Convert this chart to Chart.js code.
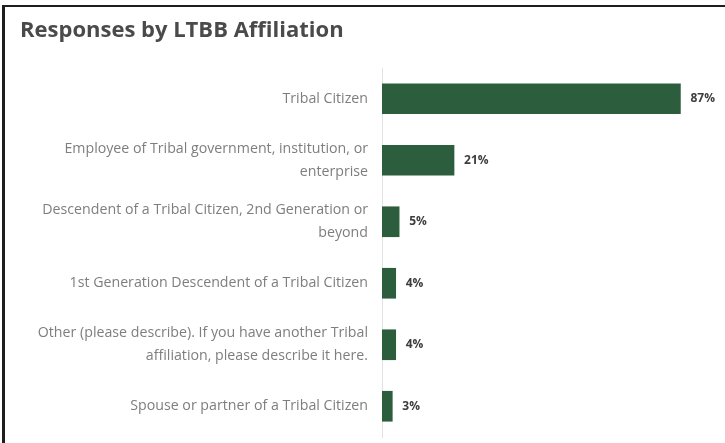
<!DOCTYPE html>
<html>
<head>
<meta charset="utf-8">
<script src="https://cdn.jsdelivr.net/npm/chart.js@4"></script>
<style>
  html, body { margin: 0; padding: 0; background: #fff; }
  #wrap { position: relative; width: 725px; height: 443px; overflow: hidden; }
  #frame {
    position: absolute; left: 2px; top: 5px; right: 0; bottom: 0;
    border-left: 3px solid #1e1e1e; border-top: 2px solid #1e1e1e;
    pointer-events: none;
  }
  #title {
    position: absolute; left: 20px; top: 13px;
    font: bold 22px "Open Sans", sans-serif; color: #4a4a4a;
  }
</style>
</head>
<body>
<div id="wrap">
  <canvas id="grafico" width="725" height="443"></canvas>
  <div id="title">Responses by LTBB Affiliation</div>
  <div id="frame"></div>
</div>
<script>
// === Dados ===
const categorias = [
  ["Tribal Citizen"],
  ["Employee of Tribal government, institution, or", "enterprise"],
  ["Descendent of a Tribal Citizen, 2nd Generation or", "beyond"],
  ["1st Generation Descendent of a Tribal Citizen"],
  ["Other (please describe). If you have another Tribal", "affiliation, please describe it here."],
  ["Spouse or partner of a Tribal Citizen"]
];
const percentuais = [87, 21, 5, 4, 4, 3];

// rótulos de valor na ponta das barras
const rotulosValor = {
  id: "rotulosValor",
  afterDatasetsDraw(chart) {
    const ctx = chart.ctx;
    const meta = chart.getDatasetMeta(0);
    ctx.save();
    ctx.font = "bold 12px 'Open Sans', sans-serif";
    ctx.fillStyle = "#3d3d3d";
    ctx.textBaseline = "middle";
    meta.data.forEach((bar, i) => {
      ctx.fillText(percentuais[i] + "%", bar.x + 10, bar.y);
    });
    ctx.restore();
  }
};

new Chart(document.getElementById("grafico"), {
  type: "bar",
  data: {
    labels: categorias,
    datasets: [{
      data: percentuais,
      backgroundColor: "#2c5e3d",
      barThickness: 30
    }]
  },
  options: {
    indexAxis: "y",
    responsive: false,
    animation: false,
    layout: { padding: { top: 68, bottom: 6, left: 0, right: 0 } },
    scales: {
      x: { display: false, min: 0, max: 100 },
      y: {
        grid: { display: false, drawTicks: false },
        border: { display: true, color: "#e2e2e2", width: 1 },
        ticks: {
          color: "#7e7e7e",
          padding: 14,
          font: { family: "'Open Sans', sans-serif", size: 14.2, lineHeight: "23px" }
        },
        afterFit(scale) {
          // largura fixa do eixo e sem folga extra em cima/baixo
          scale.width = 382;
          scale.paddingTop = 0;
          scale.paddingBottom = 0;
        }
      }
    },
    plugins: {
      legend: { display: false },
      tooltip: { enabled: false }
    }
  },
  plugins: [rotulosValor]
});
</script>
</body>
</html>
